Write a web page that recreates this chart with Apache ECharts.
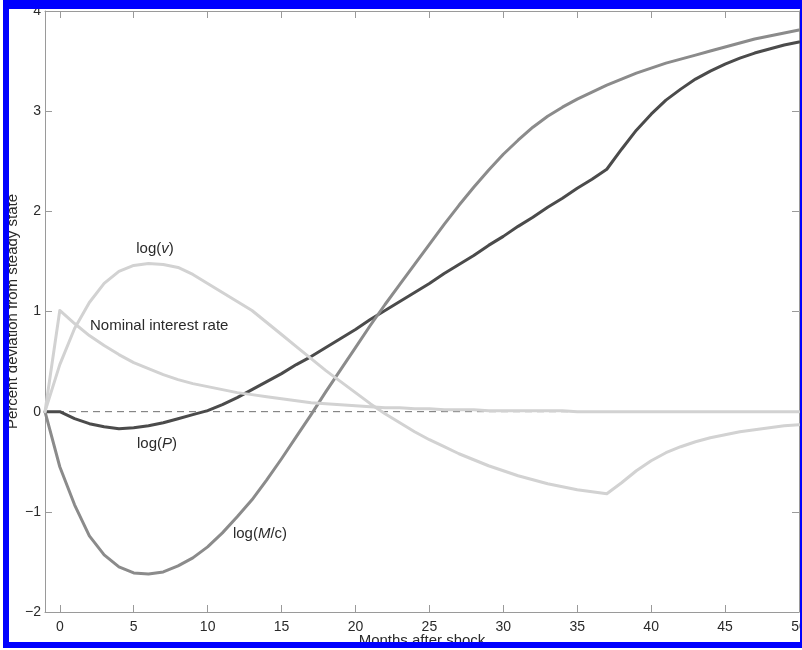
<!DOCTYPE html>
<html>
<head>
<meta charset="utf-8">
<script src="https://cdn.jsdelivr.net/npm/echarts@6/dist/echarts.min.js"></script>
<style>
  html, body { margin: 0; padding: 0; background: #fff; }
  #chart { width: 802px; height: 650px; }
</style>
</head>
<body>
<div id="chart"></div>
<script>
// Months after the shock (-1 is the pre-shock steady state)
const months = [];
for (let m = -1; m <= 50; m++) months.push(m);

// Percent deviation from steady state, one value per month
const logP = [0, 0, -0.07, -0.12, -0.15, -0.17, -0.16, -0.14, -0.11, -0.07, -0.03, 0.01,
  0.07, 0.14, 0.22, 0.30, 0.38, 0.47, 0.55, 0.64, 0.73, 0.82, 0.92, 1.01, 1.10, 1.19,
  1.28, 1.38, 1.47, 1.56, 1.66, 1.75, 1.85, 1.94, 2.04, 2.13, 2.23, 2.32, 2.42,
  2.62, 2.81, 2.97, 3.11, 3.22, 3.32, 3.40, 3.47, 3.53, 3.58, 3.62, 3.66, 3.69];

const logMc = [0, -0.55, -0.93, -1.24, -1.43, -1.55, -1.61, -1.62, -1.60, -1.54, -1.46,
  -1.35, -1.21, -1.05, -0.88, -0.68, -0.47, -0.25, -0.03, 0.20, 0.42, 0.64, 0.86, 1.07,
  1.27, 1.47, 1.67, 1.87, 2.06, 2.24, 2.41, 2.57, 2.71, 2.84, 2.95, 3.04, 3.12, 3.19,
  3.26, 3.32, 3.38, 3.43, 3.48, 3.52, 3.56, 3.60, 3.64, 3.68, 3.72, 3.75, 3.78, 3.81];

const logV = [0, 0.47, 0.83, 1.09, 1.28, 1.40, 1.46, 1.48, 1.47, 1.44, 1.37, 1.28, 1.19,
  1.10, 1.01, 0.89, 0.77, 0.65, 0.53, 0.41, 0.30, 0.19, 0.08, -0.02, -0.11, -0.20, -0.28,
  -0.35, -0.42, -0.48, -0.54, -0.59, -0.64, -0.68, -0.72, -0.75, -0.78, -0.80, -0.82,
  -0.71, -0.59, -0.49, -0.41, -0.35, -0.30, -0.26, -0.23, -0.20, -0.18, -0.16, -0.14, -0.13];

const nominalRate = [0, 1.01, 0.88, 0.76, 0.66, 0.57, 0.49, 0.43, 0.37, 0.32, 0.28, 0.25,
  0.22, 0.19, 0.17, 0.15, 0.13, 0.11, 0.09, 0.08, 0.07, 0.06, 0.05, 0.04, 0.04, 0.03,
  0.03, 0.02, 0.02, 0.02, 0.01, 0.01, 0.01, 0.01, 0.01, 0.01,
  0, 0, 0, 0, 0, 0, 0, 0, 0, 0, 0, 0, 0, 0, 0, 0];

const xTicks = [0, 5, 10, 15, 20, 25, 30, 35, 40, 45, 50];
const xRange = [-1, 50];
const yRange = [-2, 4];

const pair = (ys) => months.map((m, i) => [m, ys[i]]);

const FONT = '"Liberation Sans", Arial, Helvetica, sans-serif';
const axisGray = '#9a9a9a';
const textDark = '#2a2a2a';

const chart = echarts.init(document.getElementById('chart'), null, { renderer: 'canvas' });

const lineSeries = (name, ys, color, z) => ({
  name, type: 'line', data: pair(ys), showSymbol: false, symbol: 'none',
  smooth: false, z, lineStyle: { color, width: 3, cap: 'round', join: 'round' },
  xAxisIndex: 0, yAxisIndex: 0, silent: true
});

const xCommon = {
  type: 'value', min: xRange[0], max: xRange[1],
  axisLine: { show: true, onZero: false, lineStyle: { color: axisGray, width: 1 } },
  axisTick: { show: true, inside: true, length: 7, customValues: xTicks,
    lineStyle: { color: axisGray } },
  splitLine: { show: false }
};
const yCommon = {
  type: 'value', min: yRange[0], max: yRange[1], interval: 1,
  axisLine: { show: true, onZero: false, lineStyle: { color: axisGray, width: 1 } },
  axisTick: { show: true, inside: true, length: 7, lineStyle: { color: axisGray } },
  splitLine: { show: false }
};

const LABEL_SIZE = 15;
const label = (x, y, text, align) => ({
  type: 'text', x, y, z: 50,
  style: {
    text, fill: textDark, font: LABEL_SIZE + 'px ' + FONT,
    align: align || 'center', verticalAlign: 'middle',
    rich: {
      n: { fontSize: LABEL_SIZE, fontFamily: FONT, fill: textDark, color: textDark },
      i: { fontSize: LABEL_SIZE, fontFamily: FONT, fontStyle: 'italic', fill: textDark, color: textDark }
    }
  }
});

const blue = '#0000ff';
const frame = [
  { type: 'rect', shape: { x: 3, y: 0, width: 799, height: 9 }, style: { fill: blue }, z: 100 },
  { type: 'rect', shape: { x: 3, y: 0, width: 6, height: 648 }, style: { fill: blue }, z: 100 },
  { type: 'rect', shape: { x: 3, y: 642, width: 799, height: 6 }, style: { fill: blue }, z: 100 },
  { type: 'rect', shape: { x: 800, y: 0, width: 2, height: 648 }, style: { fill: blue }, z: 100 }
];

chart.setOption({
  animation: false,
  backgroundColor: '#ffffff',
  grid: { left: 45, right: 3, top: 11, bottom: 38, containLabel: false, outerBoundsMode: 'none' },
  xAxis: [
    Object.assign({}, xCommon, {
      position: 'bottom',
      name: 'Months after shock', nameLocation: 'middle', nameGap: 21, nameMoveOverlap: false,
      nameTextStyle: { color: textDark, fontSize: 15, fontFamily: FONT },
      axisLabel: { show: true, customValues: xTicks, color: textDark, fontSize: 14,
        fontFamily: FONT, margin: 8 }
    }),
    Object.assign({}, xCommon, { position: 'top', axisLabel: { show: false } })
  ],
  yAxis: [
    Object.assign({}, yCommon, {
      position: 'left',
      name: 'Percent deviation from steady state', nameLocation: 'middle', nameGap: 25,
      nameMoveOverlap: false,
      nameTextStyle: { color: textDark, fontSize: 15, fontFamily: FONT },
      axisLabel: { show: true, color: textDark, fontSize: 14, fontFamily: FONT, margin: 4,
        formatter: (v) => String(v).replace('-', '\u2212') }
    }),
    Object.assign({}, yCommon, { position: 'right', axisLabel: { show: false } })
  ],
  series: [
    {
      name: 'zero', type: 'line', data: [[xRange[0], 0], [xRange[1], 0]],
      showSymbol: false, symbol: 'none', z: 1, silent: true,
      lineStyle: { color: '#707070', width: 1, type: [7, 5] }
    },
    lineSeries('log(P)', logP, '#4b4b4b', 2),
    lineSeries('log(M/c)', logMc, '#8b8b8b', 3),
    lineSeries('log(v)', logV, '#d2d2d2', 4),
    lineSeries('Nominal interest rate', nominalRate, '#d2d2d2', 5)
  ],
  graphic: [
    label(155, 249, '{n|log(}{i|v}{n|)}'),
    label(90, 326, 'Nominal interest rate', 'left'),
    label(157, 444, '{n|log(}{i|P}{n|)}'),
    label(260, 534, '{n|log(}{i|M}{n|/c)}')
  ].concat(frame)
});
</script>
</body>
</html>
